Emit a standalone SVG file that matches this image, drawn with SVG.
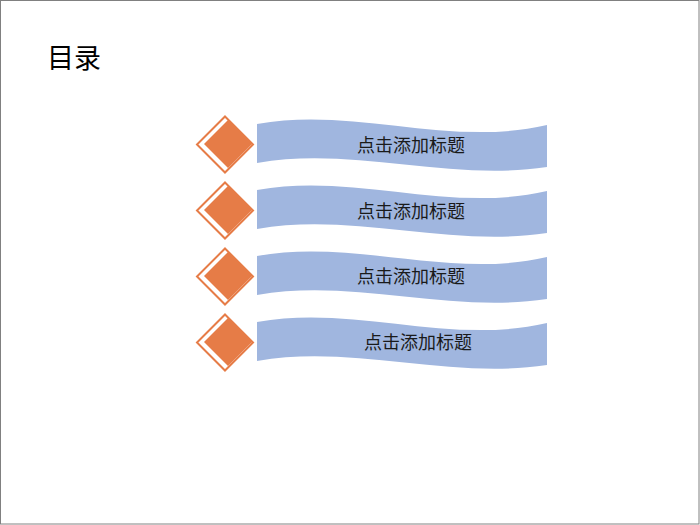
<svg xmlns="http://www.w3.org/2000/svg" width="700" height="525" viewBox="0 0 700 525">
<style>
.frame{fill:#ffffff;stroke:#808080;stroke-width:1}
.title{font-family:"Liberation Sans","Noto Sans CJK SC",sans-serif;font-size:27px;fill:#000000}
.ring{fill:#ffffff;stroke:#E67C47;stroke-width:2}
.gem{fill:#E67C47}
.wave{fill:#A0B6DF}
.label{font-family:"Liberation Sans","Noto Sans CJK SC",sans-serif;font-size:18px;fill:#1a1a1a;text-anchor:middle;dominant-baseline:central}
</style>
<defs>
<g id="item">
<polygon class="ring" points="225,116.5 253,144.5 225,172.5 197,144.5"/>
<polygon class="gem" points="228,120 252,144 228,168 204,144"/>
<path class="wave" d="M257,124 C353,106 450,148 547,125 L547,167 C450,182 353,146 257,163 Z"/>
</g>
</defs>
<rect class="frame" x="0.5" y="0.5" width="698.5" height="523.5"/>
<text class="title" x="47" y="68">目录</text>
<g id="connectors"></g>
<g id="node1">
<use href="#item"/>
<text class="label" x="411" y="145.5">点击添加标题</text>
</g>
<g id="node2" transform="translate(0,66)">
<use href="#item"/>
<text class="label" x="411" y="145.5">点击添加标题</text>
</g>
<g id="node3" transform="translate(0,132)">
<use href="#item"/>
<text class="label" x="411" y="145">点击添加标题</text>
</g>
<g id="node4" transform="translate(0,198)">
<use href="#item"/>
<text class="label" x="418" y="145">点击添加标题</text>
</g>
</svg>
